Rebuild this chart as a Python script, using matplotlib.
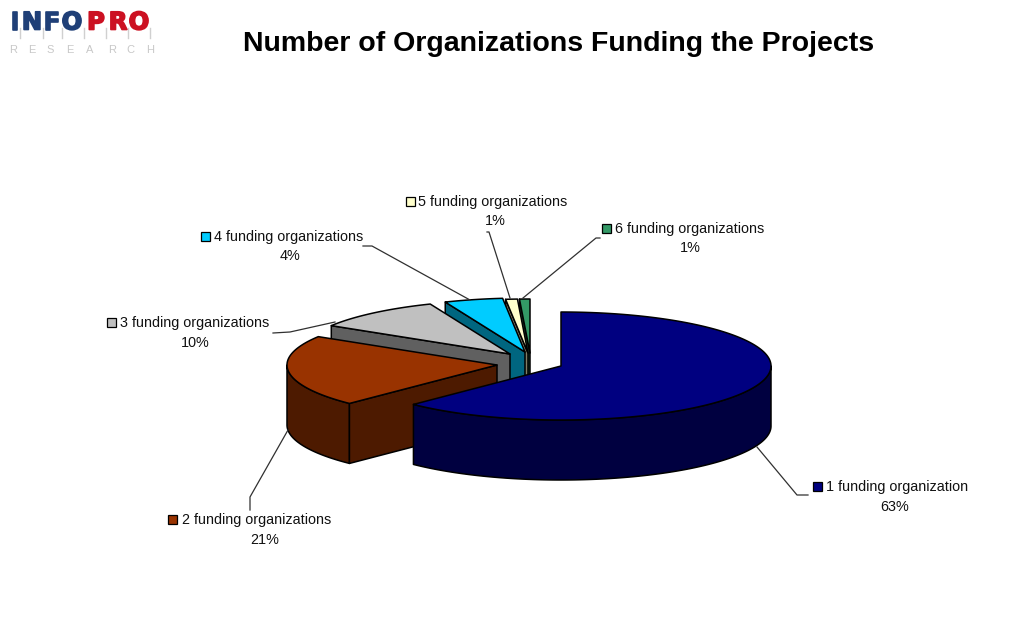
import numpy as np
import matplotlib
matplotlib.use("Agg")
import matplotlib.pyplot as plt
import matplotlib.patheffects as pe
from matplotlib.patches import Polygon, Rectangle

categories = ["1 funding organization", "2 funding organizations", "3 funding organizations",
              "4 funding organizations", "5 funding organizations", "6 funding organizations"]
# slice sizes as they look in the picture, the printed labels are rounded
shares = [62.4, 21.4, 10.0, 4.5, 0.9, 0.8]
pct_labels = ["63%", "21%", "10%", "4%", "1%", "1%"]
top_colors = ["#000080", "#993300", "#c0c0c0", "#00ccff", "#ffffcc", "#339966"]
side_colors = ["#000040", "#4d1a00", "#606060", "#006680", "#808066", "#1a4d33"]

# layout, all in image pixels
centers = [(561, 366), (497, 365), (510, 354), (525, 352), (528, 353), (530, 353)]
rx, ry, depth = 210, 54, 60
key_pos = [(813, 482), (168, 515), (107, 318), (201, 232), (406, 197), (602, 224)]
text_pos = [(826, 487), (182, 520), (120, 323), (214, 237), (418, 202), (615, 229)]
pct_pos = [(895, 507), (265, 540), (195, 343), (290, 256), (495, 221), (690, 248)]
leaders = [[(757, 447), (797, 495), (808, 495)],
           [(288, 430), (250, 497), (250, 510)],
           [(273, 333), (290, 332), (335, 322)],
           [(363, 246), (372, 246), (470, 300)],
           [(487, 232), (489, 232), (510, 298)],
           [(600, 238), (596, 238), (523, 298)]]

plt.rcParams['font.family'] = ['Liberation Sans', 'DejaVu Sans']
fig = plt.figure(figsize=(10.26, 6.36), dpi=100)
ax = fig.add_axes([0, 0, 1, 1])
ax.set_xlim(0, 1026)
ax.set_ylim(636, 0)
ax.axis("off")


def rim(cx, cy, a0, a1):
    # angles are degrees clockwise from 12 o'clock
    t = np.radians(np.linspace(a0, a1, max(int(a1 - a0) * 2, 2)))
    return np.column_stack([cx + rx * np.sin(t), cy - ry * np.cos(t)])


def draw_slice(i, a0, a1):
    cx, cy = centers[i]
    kw = dict(edgecolor="black", linewidth=1.1, joinstyle="round")
    drop = np.array([0, depth])
    arc = rim(cx, cy, a0, a1)
    apex = np.array([[cx, cy]])
    lo, hi = max(a0, 90), min(a1, 270)
    if lo < hi:
        front = rim(cx, cy, lo, hi)
        ax.add_patch(Polygon(np.vstack([front, (front + drop)[::-1]]), facecolor=side_colors[i], **kw))
    # only the cut faces turned to the viewer
    if 180 < a0 < 360:
        face = np.vstack([apex, [arc[0]], [arc[0] + drop], apex + drop])
        ax.add_patch(Polygon(face, facecolor=side_colors[i], **kw))
    if 0 < a1 < 180:
        face = np.vstack([apex, [arc[-1]], [arc[-1] + drop], apex + drop])
        ax.add_patch(Polygon(face, facecolor=side_colors[i], **kw))
    ax.add_patch(Polygon(np.vstack([apex, arc]), facecolor=top_colors[i], **kw))


edges = np.cumsum([0] + shares) / sum(shares) * 360
# back slices first so the front ones cover them
for i in range(len(shares) - 1, -1, -1):
    draw_slice(i, edges[i], edges[i + 1])

for i, cat in enumerate(categories):
    ax.plot(*zip(*leaders[i]), color="#303030", lw=0.9)
    ax.add_patch(Rectangle(key_pos[i], 9, 9, facecolor=top_colors[i], edgecolor="black", lw=0.9))
    ax.text(text_pos[i][0], text_pos[i][1], cat, fontsize=10.4, va="center", ha="left", color="#111111")
    ax.text(pct_pos[i][0], pct_pos[i][1], pct_labels[i], fontsize=10.4, va="center", ha="center", color="#111111")

ax.text(559, 44, "Number of Organizations Funding the Projects", fontsize=20.5, fontweight="bold",
        ha="center", va="center", color="black")

# logo
logo_x = [15, 32, 52, 72, 96, 118, 139]
for x in [20, 43, 62, 84, 106, 128, 150]:
    ax.plot([x, x], [28, 38], color="#d0d0d0", lw=1)
for ch, x, col in zip("INFOPRO", logo_x, ["#1f3f77"] * 4 + ["#cc1122"] * 3):
    t = ax.text(x, 20, ch, fontsize=17.5, fontweight="bold", ha="center", va="center_baseline", color=col,
                family="DejaVu Sans")
    t.set_path_effects([pe.withStroke(linewidth=1.2, foreground=col)])
for ch, x in zip("RESEARCH", [13, 32, 50, 70, 90, 112, 130, 150]):
    ax.text(x, 50, ch, fontsize=8, ha="center", va="center", color="#c8c8c8")

fig.savefig("out.png", dpi=100, facecolor="white")
